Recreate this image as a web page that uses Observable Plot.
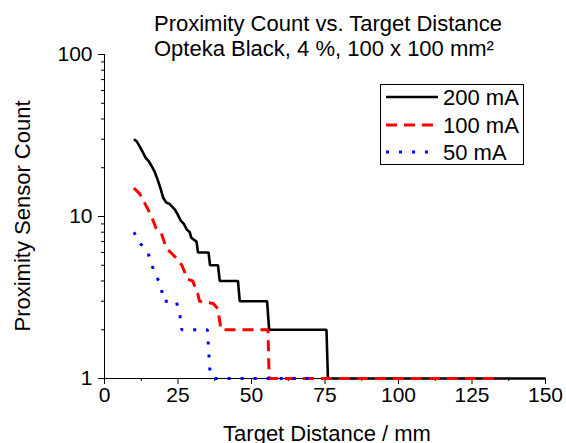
<!DOCTYPE html>
<html>
<head>
<meta charset="utf-8">
<script src="https://cdn.jsdelivr.net/npm/d3@7"></script>
<script src="https://cdn.jsdelivr.net/npm/@observablehq/plot@0.6"></script>
<style>
  html, body { margin: 0; padding: 0; background: #fff; overflow: hidden; }
  svg { display: block; }
</style>
</head>
<body>
<div id="chart"></div>
<script>
const titleLines = ["Proximity Count vs. Target Distance", "Opteka Black, 4 %, 100 x 100 mm²"];
const xLabel = "Target Distance / mm";
const yLabel = "Proximity Sensor Count";
const seriesNames = ["200 mA", "100 mA", "50 mA"];
const seriesColors = ["#000000", "#ff0000", "#0000ff"];
const seriesDash = [null, "11,7", "3,10"];

const xMajorTicks = [0, 25, 50, 75, 100, 125, 150];
const xMinorTicks = [12.5, 37.5, 62.5, 87.5, 112.5, 137.5];
const yMajorTicks = [1, 10, 100];
const yMinorTicks = [2, 3, 4, 5, 6, 7, 8, 9, 20, 30, 40, 50, 60, 70, 80, 90];

const distance200 = [10,11,12,13,14,15,16,17,18,19,20,21,22,23,24,25,26,27,28,29,29.5,31.3,31.8,35.4,35.9,38.6,39.2,45.4,46,55.3,56,75.5,76,150];
const count200    = [30,29,27,25,23,22,20.5,19,17,15,13,12.2,12,11.5,11,10.2,9.4,9,8.3,8,7.4,7,6,6,5,5,4,4,3,3,2,2,1,1];

const distance100 = [10,12,14,16,17.5,19.3,21,22.5,25,26.3,28.3,30,31.8,32.3,37,38.5,39.3,39.6,55.6,56,135];
const count100    = [15,13.8,11.8,10,8.5,7.9,6.4,6,5.4,5,4.1,4,3.3,3,2.9,2.7,2.2,2,2,1,1];

const distance50 = [10,12.2,14.8,15.9,17.6,19.3,19.9,24.4,25.6,26.3,35,35.8,37,72];
const count50    = [8,6.8,6,5.1,4.3,3.7,3,3,2.5,2,2,1.15,1,1];

const allDist = [distance200, distance100, distance50];
const allCount = [count200, count100, count50];

const FONT = "'Liberation Sans', Arial, sans-serif";

const lineMarks = seriesNames.map((name, i) => {
  const rows = allDist[i].map((d, j) => ({d, v: allCount[i][j]}));
  return Plot.line(rows, {
    x: "d", y: "v",
    stroke: seriesColors[i],
    strokeWidth: i === 0 ? 2.6 : 3,
    strokeDasharray: seriesDash[i],
    strokeLinejoin: "miter",
    strokeLinecap: "butt"
  });
});

const chart = Plot.plot({
  width: 566,
  height: 443,
  marginLeft: 104,
  marginRight: 21,
  marginTop: 54,
  marginBottom: 65,
  x: {domain: [0, 150]},
  y: {type: "log", domain: [1, 100]},
  style: {fontFamily: FONT, fontSize: "21px", color: "#000", background: "#fff"},
  marks: [
    Plot.axisX({ticks: xMajorTicks, tickSize: 6, tickPadding: 3, tickFormat: d => String(d), label: null, fontSize: 21}),
    Plot.axisX({ticks: xMinorTicks, tickSize: 3, tickFormat: () => "", label: null}),
    Plot.axisY({ticks: yMajorTicks, tickSize: 6, tickPadding: 6, tickFormat: d => String(d), label: null, fontSize: 21}),
    Plot.axisY({ticks: yMinorTicks, tickSize: 3, tickFormat: () => "", label: null}),
    Plot.ruleX([0], {stroke: "#000", strokeWidth: 1}),
    Plot.ruleY([1], {stroke: "#000", strokeWidth: 1}),
    ...lineMarks
  ]
});

document.getElementById("chart").appendChild(chart);

const svg = d3.select(chart);
// Title
svg.append("g")
  .selectAll("text")
  .data(titleLines)
  .join("text")
  .attr("x", 154)
  .attr("y", (d, i) => 31 + i * 25)
  .attr("text-anchor", "start")
  .attr("font-family", FONT)
  .attr("font-size", 22)
  .attr("fill", "#000")
  .text(d => d);

// Axis labels
svg.append("text")
  .attr("x", 327)
  .attr("y", 441)
  .attr("text-anchor", "middle")
  .attr("font-family", FONT)
  .attr("font-size", 22)
  .text(xLabel);

svg.append("text")
  .attr("transform", "translate(30,216) rotate(-90)")
  .attr("text-anchor", "middle")
  .attr("font-family", FONT)
  .attr("font-size", 22)
  .text(yLabel);

// Legend
const lg = svg.append("g");
lg.append("rect")
  .attr("x", 380.5).attr("y", 84.5).attr("width", 143).attr("height", 80)
  .attr("fill", "#fff").attr("stroke", "#000").attr("stroke-width", 1);
const legendY = [97, 125, 152];
seriesNames.forEach((name, i) => {
  lg.append("line")
    .attr("x1", 386).attr("x2", 438)
    .attr("y1", legendY[i]).attr("y2", legendY[i])
    .attr("stroke", seriesColors[i])
    .attr("stroke-width", i === 0 ? 2.6 : 3)
    .attr("stroke-dasharray", seriesDash[i]);
  lg.append("text")
    .attr("x", 443).attr("y", legendY[i])
    .attr("dy", "0.36em")
    .attr("text-anchor", "start")
    .attr("font-family", FONT)
    .attr("font-size", 22)
    .text(name);
});
</script>
</body>
</html>
